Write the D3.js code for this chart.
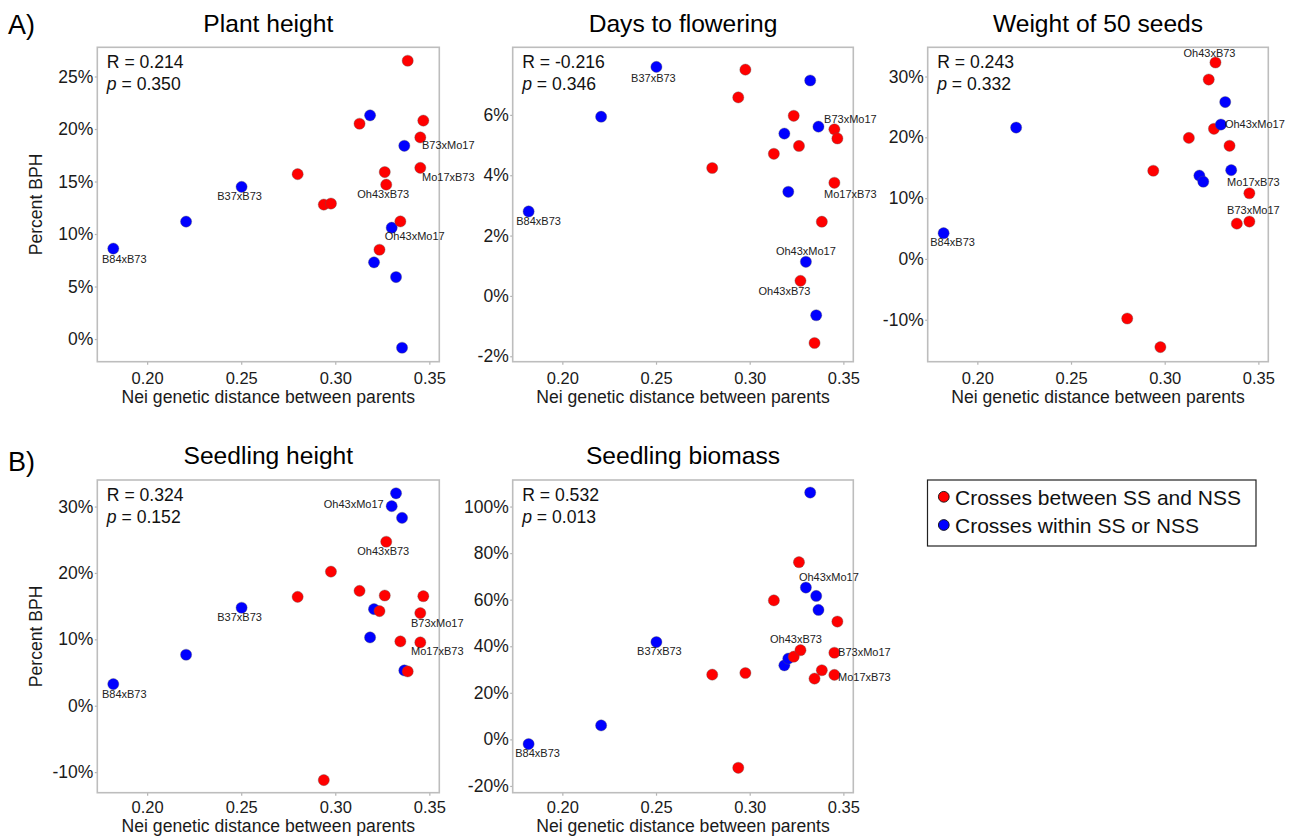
<!DOCTYPE html>
<html><head><meta charset="utf-8">
<script src="https://cdn.jsdelivr.net/npm/d3@7"></script>
<style>
body{margin:0;background:#fff;}
svg text{font-family:"Liberation Sans",Arial,Helvetica,sans-serif;}
</style></head>
<body><svg id="c" width="1291" height="836"></svg>
<script>
// ---- data ----
const crossNames = ["B84xB73","","B37xB73","","","","","","","","","Oh43xB73","Oh43xMo17","","","","","","B73xMo17","Mo17xB73",""];
const distances = [0.1820,0.2207,0.2502,0.2800,0.2939,0.2977,0.3129,0.3185,0.3206,0.3235,0.3263,0.3271,0.3300,0.3323,0.3346,0.3355,0.3367,0.3385,0.3452,0.3452,0.3468];
const groups = ["within","within","within","between","between","between","between","within","within","between","between","between","within","within","between","within","within","between","between","between","between"];
const plantHeight = [8.61,11.18,14.49,15.7,12.8,12.9,20.5,21.3,7.3,8.5,15.9,14.7,10.6,5.9,11.2,-0.83,18.4,26.5,19.2,16.3,20.8];
const daysFlowering = [2.80,5.94,7.59,4.24,6.58,7.50,4.71,5.38,3.45,5.97,4.97,0.50,1.13,7.14,-1.56,-0.64,5.61,2.46,5.52,3.75,5.22];
const seedWeight = [4.23,21.6,null,-9.8,14.5,-14.5,19.9,13.7,12.7,29.5,21.4,32.3,22.1,25.8,18.6,14.6,null,5.8,6.15,10.8,null];
const seedlingHeight = [3.26,7.68,14.76,16.4,-11.2,20.2,17.3,10.29,14.55,14.25,16.6,24.7,30.06,32.0,9.69,28.3,5.32,5.17,13.95,9.54,16.5];
const seedlingBiomass = [-2.0,6.0,41.8,27.8,-12.2,28.5,59.7,31.8,34.7,35.5,76.1,38.3,65.2,106,26.1,61.6,55.6,29.7,37.2,27.7,50.6];
const titles = ["Plant height","Days to flowering","Weight of 50 seeds","Seedling height","Seedling biomass"];
const rValues = ["0.214","-0.216","0.243","0.324","0.532"];
const pValues = ["0.350","0.346","0.332","0.152","0.013"];
const xTicks = [0.20,0.25,0.30,0.35];
const yTicks = [[0,5,10,15,20,25],[-2,0,2,4,6],[-10,0,10,20,30],[-10,0,10,20,30],[-20,0,20,40,60,80,100]];
const yDomains = [[-2.16,27.78],[-2.18,8.24],[-16.9,34.8],[-13.1,34.0],[-22.9,111.4]];
const xDomain = [0.1735,0.3553];
const legendLabels = ["Crosses between SS and NSS","Crosses within SS or NSS"];
const groupColor = {between:"#ff0000", within:"#0000ff"};

// ---- layout (pixel styles) ----
const boxes = [
  {x0:97.3,x1:439.3,y0:47.3,y1:361.7,yTitle:true,xtGap:41,tPad:7.5},
  {x0:512.7,x1:853.3,y0:47.3,y1:361.7,yTitle:false,xtGap:41,tPad:7.5},
  {x0:927.7,x1:1268.3,y0:47.3,y1:361.7,yTitle:false,xtGap:41,tPad:7.5},
  {x0:97.3,x1:439.3,y0:480,y1:792.7,yTitle:true,xtGap:39.5,tPad:5.5},
  {x0:512.7,x1:853.3,y0:480,y1:792.7,yTitle:false,xtGap:39.5,tPad:5.5}
];
const labelOffsets = [
  {"B84xB73":[11,14],"B37xB73":[-2,13],"Oh43xB73":[-3,13],"Oh43xMo17":[23,12.5],"Mo17xB73":[28,13],"B73xMo17":[28,12]},
  {"B37xB73":[-3,15],"B84xB73":[10,14],"B73xMo17":[16,-6],"Mo17xB73":[16,15.5],"Oh43xMo17":[0,-7],"Oh43xB73":[-16,14]},
  {"Oh43xB73":[-6,-6],"Oh43xMo17":[34,3.5],"Mo17xB73":[4,-7],"B73xMo17":[4,-7.5],"B84xB73":[9,12.5]},
  {"B84xB73":[11,14],"B37xB73":[-2,13],"Oh43xMo17":[-38,2],"Oh43xB73":[-3,13],"B73xMo17":[17,14],"Mo17xB73":[17,13]},
  {"B37xB73":[3,13],"B84xB73":[9,13],"Oh43xMo17":[23,-7],"Oh43xB73":[-4.5,-7.5],"B73xMo17":[30,3.5],"Mo17xB73":[30,6.5]}
];
const valueSets = [plantHeight,daysFlowering,seedWeight,seedlingHeight,seedlingBiomass];

const svg = d3.select("#c");
svg.append("rect").attr("width",1291).attr("height",836).attr("fill","#fff");

valueSets.forEach((vals,i)=>{
  const b = boxes[i];
  const x = d3.scaleLinear().domain(xDomain).range([b.x0,b.x1]);
  const y = d3.scaleLinear().domain(yDomains[i]).range([b.y1,b.y0]);
  const g = svg.append("g");
  // axes
  const xa = g.append("g").attr("transform",`translate(0,${b.y1})`)
    .call(d3.axisBottom(x).tickValues(xTicks).tickFormat(d3.format(".2f")).tickSize(3).tickSizeOuter(0).tickPadding(b.tPad));
  const ya = g.append("g").attr("transform",`translate(${b.x0},0)`)
    .call(d3.axisLeft(y).tickValues(yTicks[i]).tickFormat(d=>d+"%").tickSize(2.5).tickPadding(1.5).tickSizeOuter(0));
  [xa,ya].forEach(a=>{
    a.select(".domain").remove();
    a.selectAll(".tick line").attr("stroke","#b3b3b3").attr("stroke-width",1.2);
    a.selectAll(".tick text").attr("fill","#1a1a1a");
  });
  xa.selectAll(".tick text").style("font-size","16.5px");
  ya.selectAll(".tick text").style("font-size","17.5px");
  // box
  g.append("rect").attr("x",b.x0).attr("y",b.y0).attr("width",b.x1-b.x0).attr("height",b.y1-b.y0)
    .attr("fill","none").attr("stroke","#bdbdbd").attr("stroke-width",1.6);
  // title
  g.append("text").attr("x",(b.x0+b.x1)/2).attr("y",b.y0-15.8).attr("text-anchor","middle")
    .style("font-size","24.6px").attr("fill","#000").text(titles[i]);
  // x title
  g.append("text").attr("x",(b.x0+b.x1)/2).attr("y",b.y1+b.xtGap).attr("text-anchor","middle")
    .style("font-size","17.6px").attr("fill","#1a1a1a").text("Nei genetic distance between parents");
  if(b.yTitle){
    g.append("text").attr("transform",`translate(${b.x0-55.6},${(b.y0+b.y1)/2}) rotate(-90)`)
      .attr("text-anchor","middle").style("font-size","17.6px").attr("fill","#1a1a1a").text("Percent BPH");
  }
  // R / p
  g.append("text").attr("x",b.x0+9.5).attr("y",b.y0+21).style("font-size","17.6px").attr("fill","#111").text("R = "+rValues[i]);
  const pt = g.append("text").attr("x",b.x0+9.5).attr("y",b.y0+43).style("font-size","17.6px").attr("fill","#111");
  pt.append("tspan").style("font-style","italic").text("p");
  pt.append("tspan").text(" = "+pValues[i]);
  // points
  const pts = vals.map((v,k)=>({v,k})).filter(d=>d.v!==null);
  g.selectAll("circle.pt").data(pts).enter().append("circle").attr("class","pt")
    .attr("cx",d=>x(distances[d.k])).attr("cy",d=>y(d.v)).attr("r",5.6)
    .attr("fill",d=>groupColor[groups[d.k]]).attr("stroke","rgba(90,90,90,0.45)").attr("stroke-width",0.8);
  // labels
  const offs = labelOffsets[i];
  g.selectAll("text.lab").data(pts.filter(d=>crossNames[d.k] && offs[crossNames[d.k]])).enter().append("text").attr("class","lab")
    .attr("x",d=>x(distances[d.k])+offs[crossNames[d.k]][0]).attr("y",d=>y(d.v)+offs[crossNames[d.k]][1])
    .attr("text-anchor","middle").style("font-size","11px").attr("fill","#222").text(d=>crossNames[d.k]);
});

// panel letters
svg.append("text").attr("x",8).attr("y",33.5).style("font-size","27px").attr("fill","#000").text("A)");
svg.append("text").attr("x",8).attr("y",471).style("font-size","27px").attr("fill","#000").text("B)");

// legend
const lg = svg.append("g");
lg.append("rect").attr("x",927.5).attr("y",480).attr("width",328.5).attr("height",66).attr("fill","#fff").attr("stroke","#222").attr("stroke-width",1.2);
const legendRows = [{t:legendLabels[0],c:groupColor.between,cy:496.8,by:505},{t:legendLabels[1],c:groupColor.within,cy:525,by:533.3}];
legendRows.forEach(r=>{
  lg.append("circle").attr("cx",943.8).attr("cy",r.cy).attr("r",5.4).attr("fill",r.c).attr("stroke","#111").attr("stroke-width",0.9);
  lg.append("text").attr("x",955).attr("y",r.by).style("font-size","21px").attr("fill","#111").text(r.t);
});
</script></body></html>
